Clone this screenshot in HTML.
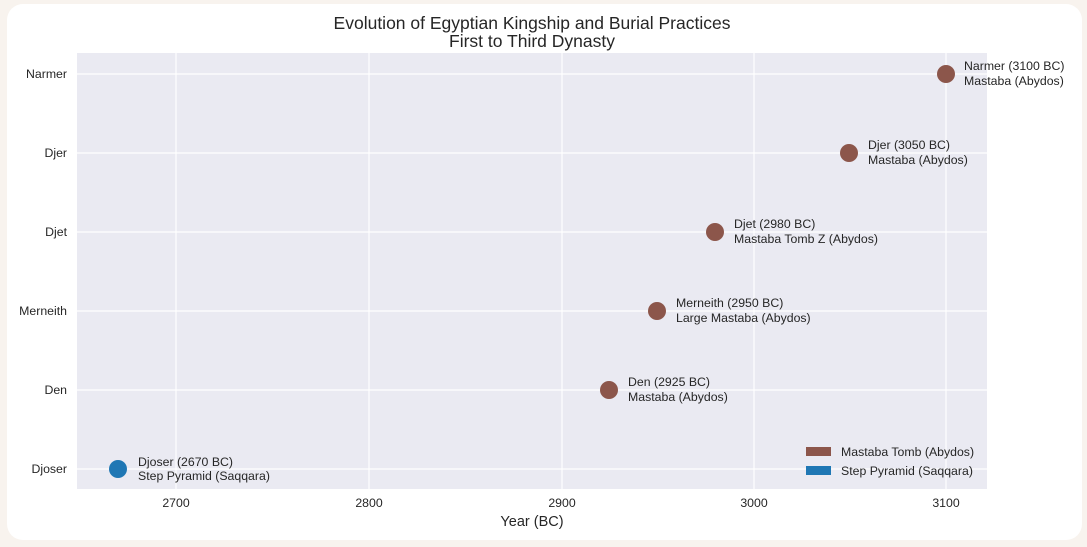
<!DOCTYPE html>
<html><head><meta charset="utf-8"><style>
html,body{margin:0;padding:0;background:#f8f3ee;width:1087px;height:547px;overflow:hidden}
.card{position:absolute;left:7px;top:4px;width:1075px;height:536px;background:#fff;border-radius:16px}
svg{position:absolute;left:0;top:0}
text{font-family:"Liberation Sans",sans-serif;fill:#262626}
</style></head><body>
<div class="card"></div>
<svg width="1087" height="547" viewBox="0 0 1087 547">
<rect x="77" y="53" width="910" height="436" fill="#eaeaf2"/>
<g stroke="#fff" stroke-width="1.2">
<line x1="176" y1="53" x2="176" y2="489"/><line x1="369" y1="53" x2="369" y2="489"/>
<line x1="562" y1="53" x2="562" y2="489"/><line x1="754" y1="53" x2="754" y2="489"/>
<line x1="946" y1="53" x2="946" y2="489"/>
<line x1="77" y1="74" x2="987" y2="74"/><line x1="77" y1="153" x2="987" y2="153"/>
<line x1="77" y1="232" x2="987" y2="232"/><line x1="77" y1="311" x2="987" y2="311"/>
<line x1="77" y1="390" x2="987" y2="390"/><line x1="77" y1="469" x2="987" y2="469"/>
</g>
<text x="532" y="29" font-size="17.5" text-anchor="middle">Evolution of Egyptian Kingship and Burial Practices</text>
<text x="532" y="47" font-size="17.5" text-anchor="middle">First to Third Dynasty</text>
<g font-size="12.3" text-anchor="end">
<text x="67" y="78">Narmer</text><text x="67" y="157">Djer</text><text x="67" y="236">Djet</text>
<text x="67" y="315">Merneith</text><text x="67" y="394">Den</text><text x="67" y="473">Djoser</text>
</g>
<g font-size="12.3" text-anchor="middle">
<text x="176" y="507">2700</text><text x="369" y="507">2800</text><text x="562" y="507">2900</text>
<text x="754" y="507">3000</text><text x="946" y="507">3100</text>
</g>
<text x="532" y="526" font-size="14.5" text-anchor="middle">Year (BC)</text>
<g fill="#8c564b">
<circle cx="946" cy="74" r="9"/><circle cx="849" cy="153" r="9"/><circle cx="715" cy="232" r="9"/>
<circle cx="657" cy="311" r="9"/><circle cx="609" cy="390" r="9"/>
</g>
<circle cx="118" cy="469" r="9" fill="#1f77b4"/>
<g font-size="12.3">
<text x="964" y="70">Narmer (3100 BC)</text><text x="964" y="85">Mastaba (Abydos)</text>
<text x="868" y="149">Djer (3050 BC)</text><text x="868" y="164">Mastaba (Abydos)</text>
<text x="734" y="228">Djet (2980 BC)</text><text x="734" y="243">Mastaba Tomb Z (Abydos)</text>
<text x="676" y="307">Merneith (2950 BC)</text><text x="676" y="322">Large Mastaba (Abydos)</text>
<text x="628" y="386">Den (2925 BC)</text><text x="628" y="401">Mastaba (Abydos)</text>
<text x="138" y="466">Djoser (2670 BC)</text><text x="138" y="480">Step Pyramid (Saqqara)</text>
<rect x="806" y="447" width="25" height="9" fill="#8c564b"/>
<rect x="806" y="466" width="25" height="9" fill="#1f77b4"/>
<text x="841" y="456">Mastaba Tomb (Abydos)</text>
<text x="841" y="475">Step Pyramid (Saqqara)</text>
</g>
</svg>
</body></html>
